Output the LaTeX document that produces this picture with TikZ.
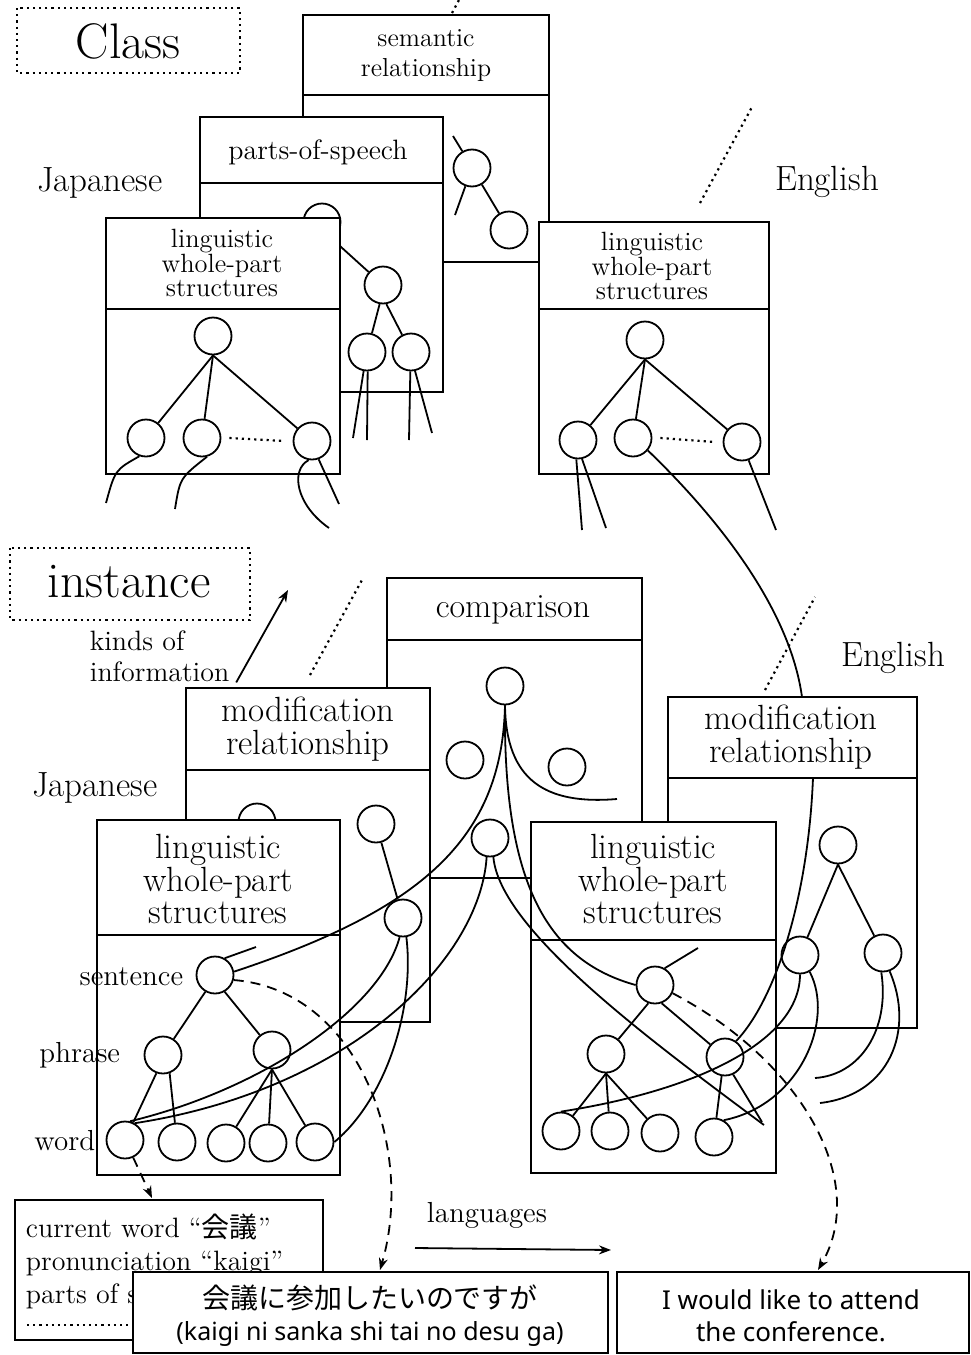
\documentclass[tikz,border=0pt]{standalone}
\usepackage{fontspec}
\newfontfamily\jpfont{Noto Sans CJK JP}
\newfontfamily\gsfont{Noto Sans}
\usetikzlibrary{arrows.meta, positioning}

\tikzset{
  nd/.style={circle, draw, minimum size=18.5pt, inner sep=0pt},
  pane/.style={draw, fill=white},
  dotsep/.style={dotted, line width=1.1pt},
  bigtag/.style={font=\fontsize{25}{30}\selectfont},
  side/.style={font=\fontsize{17.5}{20}\selectfont},
  hdsmall/.style={font={\fontsize{13.2}{12.4}\selectfont\lineskiplimit-8pt}, align=center},
  hdbig/.style={font={\fontsize{17.5}{16.2}\selectfont\lineskiplimit-8pt}, align=center},
  lvl/.style={font=\fontsize{14.5}{16}\selectfont, anchor=east, inner sep=0pt},
  tail/.style={-{Stealth[length=6pt,width=4.5pt]}},
  dsh/.style={dash pattern=on 5pt off 3.5pt}
}

\begin{document}
\begin{tikzpicture}[x=0.5pt, y=-0.5pt, line width=0.9pt]
  \useasboundingbox (0,0) rectangle (970,1355);

  % Class level
  \draw[dotsep] (17,8) rectangle (240,73);
  \node[bigtag] (cls) at (128,41) {Class};

  \draw[pane] (303,15) rectangle (549,262);
  \draw (303,95) -- (549,95);
  \node[font=\fontsize{13}{15}\selectfont, align=center] (sem) at (426,56) {semantic\\relationship};
  \draw[dotsep] (452,13) -- (459,0);
  \node[nd] (s1) at (472,168) {};
  \node[nd] (s2) at (509,230) {};
  \draw (s1) -- (s2);
  \draw (s1.-110) -- (455,215);
  \draw (453,136) -- (s1.120);

  \draw[pane] (200,117) rectangle (443,392);
  \draw (200,183) -- (443,183);
  \node[font=\fontsize{14}{16}\selectfont] (pos) at (318,152) {parts-of-speech};
  \node[nd] (ph) at (322,222) {};
  \node[nd] (p1) at (383,285) {};
  \node[nd] (p2) at (367,352) {};
  \node[nd] (p3) at (411,352) {};
  \draw (330,237) -- (p1);
  \draw (p1.-100) -- (p2);
  \draw (p1.-80) -- (p3);
  \draw (p2.-100) -- (353,438);
  \draw (p2.-88) -- (367,440);
  \draw (p3.-92) -- (409,440);
  \draw (p3.-78) -- (432,433);

  \node[side] (jcls) at (100,183) {Japanese};
  \draw[pane] (106,218) rectangle (340,474);
  \draw (106,309) -- (340,309);
  \node[hdsmall] (jch) at (222,263) {linguistic\\whole-part\\structures};
  \node[nd] (jr) at (213,336) {};
  \node[nd] (jc1) at (146,438) {};
  \node[nd] (jc2) at (202,438) {};
  \node[nd] (jc3) at (312,441) {};
  \foreach \c in {jc1,jc2,jc3}
    \draw (jr.south) -- (\c);
  \draw[dotsep] ([xshift=4pt]jc2.east) -- ([xshift=-4pt]jc3.west);
  \draw (jc1.-110) .. controls (115,470) .. (106,503);
  \draw (jc2.-75) .. controls (180,478) .. (175,509);
  \draw (jc3.-100) .. controls (290,470) and (296,505) .. (329,528);
  \draw (jc3.-70) -- (339,504);

  \node[side] (ecls) at (827,182) {English};
  \draw[dotsep] (700,203) -- (752,107);
  \draw[pane] (539,222) rectangle (769,474);
  \draw (539,309) -- (769,309);
  \node[hdsmall] (ech) at (652,266) {linguistic\\whole-part\\structures};
  \node[nd] (er) at (645,340) {};
  \node[nd] (ec1) at (578,440) {};
  \node[nd] (ec2) at (633,438) {};
  \node[nd] (ec3) at (742,442) {};
  \foreach \c in {ec1,ec2,ec3}
    \draw (er.south) -- (\c);
  \draw[dotsep] ([xshift=4pt]ec2.east) -- ([xshift=-4pt]ec3.west);
  \draw (ec1.-95) -- (582,530);
  \draw (ec1.-78) -- (606,528);
  \draw (ec3.-70) -- (776,530);
  \coordinate (mtop) at (802,697);
  \coordinate (mdiv) at (813,778);
  \draw (ec2.-40) .. controls (720,520) and (790,610) .. (mtop);

  % instance level
  \draw[dotsep] (10,548) rectangle (250,620);
  \node[bigtag] (inst) at (129,582) {instance};
  \node[font=\fontsize{14}{15.5}\selectfont, align=left, anchor=west, inner sep=0pt] (kinds) at (89,656) {kinds of\\information};
  \draw[tail] ([xshift=3pt]kinds.south east) -- (288,590);
  \draw[dotsep] (310,675) -- (362,580);

  \draw[pane] (387,578) rectangle (642,878);
  \draw (387,640) -- (642,640);
  \node[font=\fontsize{17}{20}\selectfont] (cmp) at (513,610) {comparison};
  \node[nd] (cr) at (505,686) {};
  \node[nd] (ca) at (465,760) {};
  \node[nd] (cb) at (567,767) {};
  \node[nd] (cc) at (490,838) {};
  \draw (cr.south) .. controls (506,780) and (545,805) .. (617,799);

  \node[side] (jins) at (95,788) {Japanese};
  \draw[pane] (186,688) rectangle (430,1022);
  \draw (186,770) -- (430,770);
  \node[hdbig] (jmh) at (308,729) {modification\\relationship};
  \node[nd] (jm0) at (257,822) {};
  \node[nd] (jm1) at (376,824) {};
  \node[nd] (jm2) at (403,918) {};
  \draw (jm1) -- (jm2);

  \draw[pane] (97,820) rectangle (340,1175);
  \draw (97,935) -- (340,935);
  \node[hdbig] (jlh) at (218,879) {linguistic\\whole-part\\structures};
  \node[lvl] (lsen) at (184,977) {sentence};
  \node[lvl] (lphr) at (121,1055) {phrase};
  \node[lvl] (lwrd) at (96,1141) {word};
  \node[nd] (js) at (215,975) {};
  \node[nd] (jp1) at (163,1055) {};
  \node[nd] (jp2) at (272,1050) {};
  \node[nd] (jw1) at (125,1140) {};
  \node[nd] (jw2) at (177,1142) {};
  \node[nd] (jw3) at (226,1143) {};
  \node[nd] (jw4) at (268,1143) {};
  \node[nd] (jw5) at (315,1142) {};
  \draw (js.60) -- (256,947);
  \draw (js.-120) -- (jp1);
  \draw (js.-60) -- (jp2);
  \draw (jp1.-110) -- (jw1);
  \draw (jp1.-70) -- (jw2);
  \foreach \w in {jw3,jw4,jw5}
    \draw (jp2.south) -- (\w);

  \node[side] (eins) at (893,658) {English};
  \draw[dotsep] (765,690) -- (815,597);
  \draw[pane] (668,697) rectangle (917,1028);
  \draw (668,778) -- (917,778);
  \node[hdbig] (emh) at (791,737) {modification\\relationship};
  \node[nd] (em1) at (838,845) {};
  \node[nd] (em2) at (800,955) {};
  \node[nd] (em3) at (883,953) {};
  \draw (em1.south) -- (em2);
  \draw (em1.south) -- (em3);

  \draw[pane] (531,822) rectangle (776,1173);
  \draw (531,940) -- (776,940);
  \node[hdbig] (elh) at (653,879) {linguistic\\whole-part\\structures};
  \node[nd] (es) at (655,985) {};
  \node[nd] (ep1) at (606,1054) {};
  \node[nd] (ep2) at (725,1057) {};
  \node[nd] (ew1) at (561,1131) {};
  \node[nd] (ew2) at (610,1131) {};
  \node[nd] (ew3) at (660,1133) {};
  \node[nd] (ew4) at (714,1137) {};
  \draw (es.60) -- (698,948);
  \draw (es.-110) -- (ep1);
  \draw (es.-70) -- (ep2);
  \foreach \w in {ew1,ew2,ew3}
    \draw (ep1.south) -- (\w);
  \draw (ep2.-100) -- (ew4);
  \draw (ep2.-65) -- (762,1122);

  % links across the structures
  \draw (mdiv) .. controls (808,900) and (775,1000) .. (ep2.55);
  \draw (cr.south) .. controls (502,840) and (420,910) .. (js.10);
  \draw (cr.south) .. controls (503,880) and (545,960) .. (es.west);
  \draw (cc.-80) .. controls (500,930) and (650,1040) .. (764,1125);
  \draw (cc.-100) .. controls (480,960) and (350,1090) .. (jw1.60);
  \draw (jm2.-100) .. controls (380,1010) and (260,1090) .. (jw1.75);
  \draw (jm2.-80) .. controls (415,1010) and (385,1100) .. (jw5.east);
  \draw (ew1.north) .. controls (700,1090) and (800,1040) .. (em2.south);
  \draw (ew4.60) .. controls (800,1105) and (835,1020) .. (em2.-60);
  \draw (em3.-95) .. controls (890,1030) and (860,1075) .. (815,1078);
  \draw (em3.-70) .. controls (915,1030) and (890,1095) .. (820,1103);

  % outputs
  \coordinate (cwdrop) at (152,1198);
  \coordinate (jsdrop) at (380,1270);
  \coordinate (esdrop) at (818,1270);
  \draw[dsh, tail] (jw1.-65) -- (cwdrop);
  \draw[dsh, tail] (js.-15) .. controls (360,990) and (415,1150) .. (jsdrop);
  \draw[dsh, tail] (es.-25) .. controls (800,1060) and (870,1180) .. (esdrop);

  \draw[pane] (15,1200) rectangle (323,1340);
  \node[font=\fontsize{14}{16.5}\selectfont, align=left, anchor=north west, inner sep=0pt] (cw) at (25,1213)
    {current word “{\jpfont 会議}”\\pronunciation “kaigi”\\parts of s};
  \draw[dotsep] (27,1325) -- (133,1325);

  \draw[pane] (133,1272) rectangle (608,1353);
  \node[align=center, font=\fontsize{14}{16}\selectfont] (jsent) at (370,1316)
    {{\jpfont 会議に参加したいのですが}\\{\gsfont\fontsize{12.5}{16}\selectfont (kaigi ni sanka shi tai no desu ga)}};

  \draw[pane] (617,1272) rectangle (969,1353);
  \node[align=center, font=\gsfont\fontsize{13}{16}\selectfont] (esent) at (791,1316)
    {I would like to attend\\the conference.};

  \node[font=\fontsize{14.5}{17}\selectfont] (lang) at (487,1215) {languages};
  \coordinate (la) at (415,1248);
  \coordinate (lb) at (611,1250);
  \draw[tail] (la) -- (lb);
\end{tikzpicture}
\end{document}
